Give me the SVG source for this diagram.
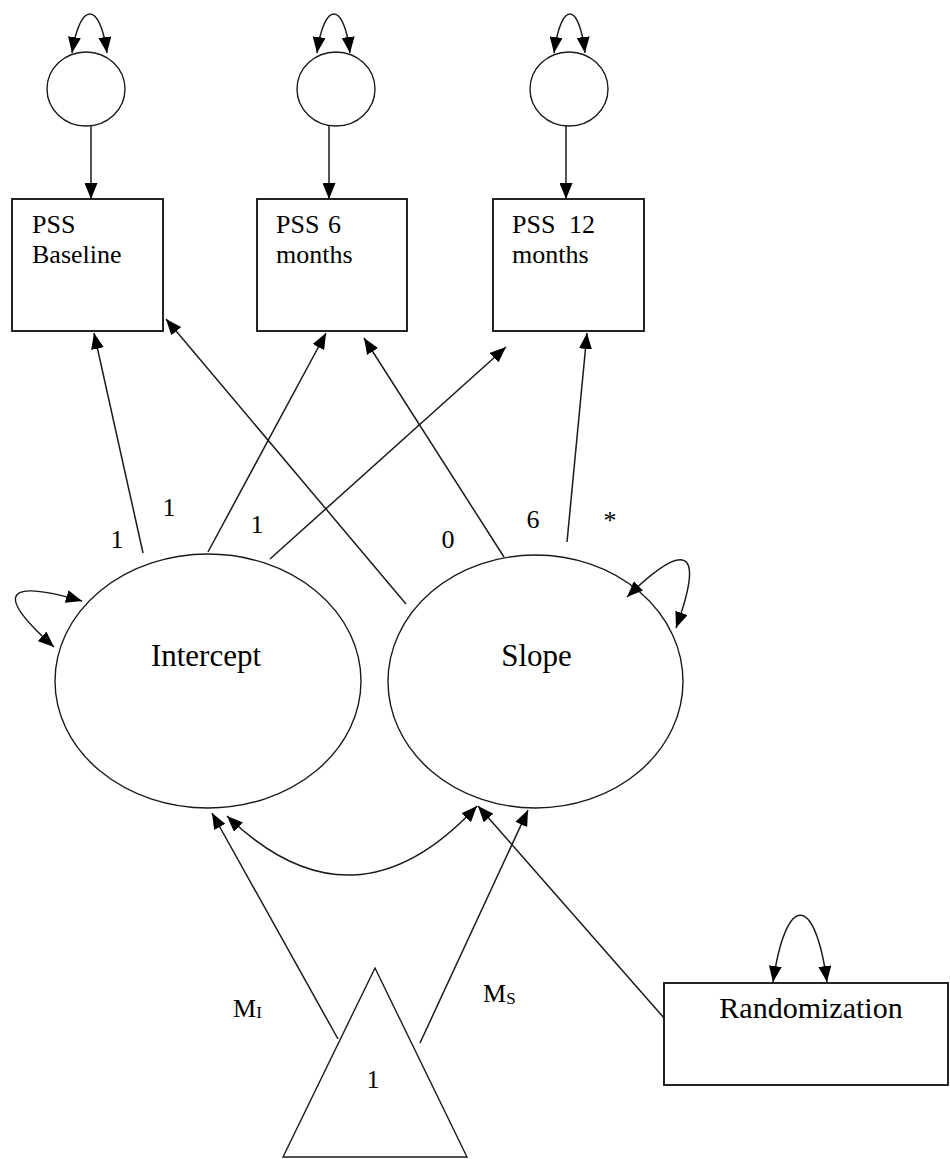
<svg xmlns="http://www.w3.org/2000/svg" width="950" height="1159" viewBox="0 0 950 1159" font-family="'Liberation Serif', 'Times New Roman', 'DejaVu Serif', serif">
<style>
  .shape { fill: #ffffff; stroke: #1a1a1a; stroke-width: 1.4; }
  .box { fill: #ffffff; stroke: #1a1a1a; stroke-width: 1.9; }
  .conn { fill: none; stroke: #1a1a1a; stroke-width: 1.5; }
  .arr { marker-end: url(#ah); }
  .darr { marker-start: url(#ah); marker-end: url(#ah); }
  .tx { font-family: 'Liberation Serif', 'Times New Roman', 'DejaVu Serif', serif; fill: #000000; }
  .t26 { font-size: 26px; }
  .big { font-size: 31px; }
  .lbl { font-size: 26px; text-anchor: middle; }
</style>
<defs>
  <marker id="ah" viewBox="0 0 16 13" refX="16" refY="6.5" markerWidth="16" markerHeight="13" markerUnits="userSpaceOnUse" orient="auto-start-reverse">
    <path d="M0,0 L16,6.5 L0,13 z" fill="#000000"/>
  </marker>
</defs>

<g id="err1"><ellipse class="shape" cx="86" cy="89" rx="39" ry="37"/></g>
<g id="err2"><ellipse class="shape" cx="336" cy="89" rx="39" ry="37"/></g>
<g id="err3"><ellipse class="shape" cx="569" cy="89" rx="39" ry="37"/></g>

<g id="pss-baseline">
  <rect class="box" x="12" y="199" width="151" height="132"/>
  <text class="tx t26" x="32" y="233">PSS</text>
  <text class="tx t26" x="32" y="263">Baseline</text>
</g>
<g id="pss-6">
  <rect class="box" x="257" y="199" width="150" height="132"/>
  <text class="tx t26" x="276" y="233" word-spacing="2">PSS 6</text>
  <text class="tx t26" x="276" y="263">months</text>
</g>
<g id="pss-12">
  <rect class="box" x="493" y="199" width="151" height="132"/>
  <text class="tx t26" x="512" y="233" word-spacing="7">PSS 12</text>
  <text class="tx t26" x="512" y="263">months</text>
</g>

<g id="intercept">
  <ellipse class="shape" cx="208" cy="681" rx="153" ry="127"/>
  <text class="tx big" x="206" y="666" text-anchor="middle">Intercept</text>
</g>
<g id="slope">
  <ellipse class="shape" cx="535.5" cy="681.5" rx="147.5" ry="126.5"/>
  <text class="tx big" x="536.5" y="666" text-anchor="middle">Slope</text>
</g>

<g id="constant">
  <polygon class="shape" points="375,968 283,1157 467,1157"/>
  <text class="tx lbl" x="373" y="1088">1</text>
</g>

<g id="randomization">
  <rect class="box" x="664" y="983" width="284" height="102"/>
  <text class="tx" x="811" y="1018" font-size="30" text-anchor="middle">Randomization</text>
</g>

<g id="connectors">
  <!-- residual variances on top error circles -->
  <path class="conn darr" d="M72,53 C80,1 100,1 107,53"/>
  <path class="conn darr" d="M317,53 C324,1 344,1 350,53"/>
  <path class="conn darr" d="M554,53 C561,1 579,1 585,53"/>
  <!-- error to indicator -->
  <line class="conn arr" x1="91" y1="126" x2="91" y2="199"/>
  <line class="conn arr" x1="329" y1="126" x2="329" y2="199"/>
  <line class="conn arr" x1="566" y1="126" x2="566" y2="199"/>
  <!-- intercept loadings -->
  <line class="conn arr" x1="143" y1="553" x2="94" y2="333"/>
  <line class="conn arr" x1="208" y1="552" x2="326" y2="333"/>
  <line class="conn arr" x1="270" y1="559" x2="506" y2="347"/>
  <!-- slope loadings -->
  <line class="conn arr" x1="406" y1="604" x2="166" y2="319"/>
  <line class="conn arr" x1="504" y1="557" x2="364" y2="338"/>
  <line class="conn arr" x1="567" y1="542" x2="587" y2="333"/>
  <!-- latent variances -->
  <path class="conn darr" d="M82,601 C10,580 -10,590 54,647"/>
  <path class="conn darr" d="M627,597 C675,550 710,535 676,628"/>
  <!-- intercept-slope covariance -->
  <path class="conn darr" d="M227,816 Q354,939 477,806"/>
  <!-- means -->
  <line class="conn arr" x1="338" y1="1039" x2="212" y2="813"/>
  <line class="conn arr" x1="420" y1="1043" x2="528" y2="810"/>
  <!-- randomization -->
  <line class="conn arr" x1="664" y1="1018" x2="478" y2="806"/>
  <path class="conn darr" d="M773,982 C786,893 815,893 827,982"/>
</g>

<g id="labels">
  <text class="tx lbl" x="117" y="548">1</text>
  <text class="tx lbl" x="169" y="516">1</text>
  <text class="tx lbl" x="257" y="533">1</text>
  <text class="tx lbl" x="448" y="548">0</text>
  <text class="tx lbl" x="533" y="528">6</text>
  <text class="tx lbl" x="610" y="529">*</text>
  <text class="tx t26" x="233" y="1017">M<tspan font-size="17" dy="1">I</tspan></text>
  <text class="tx t26" x="483" y="1002">M<tspan font-size="17" dy="2">S</tspan></text>
</g>
</svg>
